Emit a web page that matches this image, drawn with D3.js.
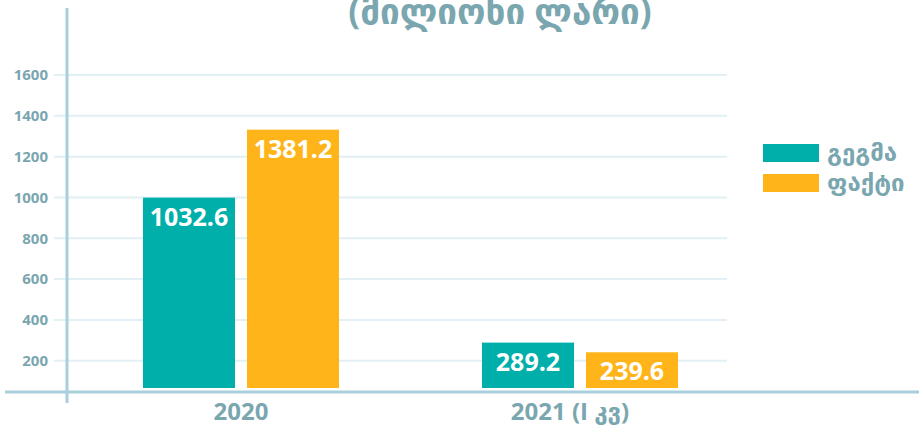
<!DOCTYPE html>
<html>
<head>
<meta charset="utf-8">
<script src="https://cdn.jsdelivr.net/npm/d3@7"></script>
<style>
  body { margin: 0; background: #fff; }
  svg text { font-family: "Open Sans", "DejaVu Sans", sans-serif; font-weight: 700; }
</style>
</head>
<body>
<div id="chart"></div>
<script>
// data
const categories = ["2020", "2021 (I კვ)"];
const seriesNames = ["გეგმა", "ფაქტი"];
const plan = [1032.6, 289.2];
const fact = [1381.2, 239.6];
const yTicks = [200, 400, 600, 800, 1000, 1200, 1400, 1600];
const title = "(მილიონი ლარი)";

const colors = ["#00afa9", "#ffb519"];
const axisColor = "#a9cfdb", gridColor = "#e2eff4", labelColor = "#7aa6b0";

const width = 919, height = 427;
const baseY = 388;

const svg = d3.select("#chart")
  .append("svg")
    .attr("width", width)
    .attr("height", height);

// grid scale
var y = d3.scaleLinear()
  .domain([0, 1600])
  .range([401.5, 75]);
// bars in the original are drawn a bit flatter than the grid
var yBar = d3.scaleLinear()
  .domain([0, 1600])
  .range([399, 399 - 0.195 * 1600]);

var x = d3.scalePoint()
  .domain(categories)
  .range([241, 580]);
var xSub = d3.scaleBand()
  .domain(seriesNames)
  .range([-98, 98])
  .paddingInner(0.1154);

// gridlines
svg.append("g")
  .selectAll("line")
  .data(yTicks)
  .enter().append("line")
    .attr("x1", 54)
    .attr("x2", 727)
    .attr("y1", d => y(d))
    .attr("y2", d => y(d))
    .attr("stroke", gridColor)
    .attr("stroke-width", 2);

// tick labels
svg.append("g")
  .selectAll("text")
  .data(yTicks)
  .enter().append("text")
    .attr("x", 48)
    .attr("y", d => y(d))
    .attr("dy", "0.36em")
    .attr("text-anchor", "end")
    .style("font-size", "15px")
    .style("fill", labelColor)
    .text(d => d);

// axis lines
svg.append("line")
  .attr("x1", 67).attr("x2", 67)
  .attr("y1", 8).attr("y2", 403)
  .attr("stroke", axisColor)
  .attr("stroke-width", 3);
svg.append("line")
  .attr("x1", 5).attr("x2", width)
  .attr("y1", 392).attr("y2", 392)
  .attr("stroke", axisColor)
  .attr("stroke-width", 3);

// bars
const rows = categories.map((c, i) => ({cat: c, vals: [plan[i], fact[i]]}));
const bars = [];
rows.forEach(r => r.vals.forEach((v, j) => bars.push({cat: r.cat, s: seriesNames[j], v: v, j: j})));

svg.append("g")
  .selectAll("rect")
  .data(bars)
  .enter().append("rect")
    .attr("x", d => x(d.cat) + xSub(d.s))
    .attr("y", d => yBar(d.v))
    .attr("width", xSub.bandwidth())
    .attr("height", d => baseY - yBar(d.v))
    .attr("fill", d => colors[d.j]);

svg.append("g")
  .selectAll("text")
  .data(bars)
  .enter().append("text")
    .attr("x", d => x(d.cat) + xSub(d.s) + xSub.bandwidth() / 2)
    .attr("y", d => yBar(d.v) + 28)
    .attr("text-anchor", "middle")
    .style("font-size", "25px")
    .style("fill", "#fff")
    .text(d => d.v.toFixed(1));

// category labels
svg.append("g")
  .selectAll("text")
  .data(categories)
  .enter().append("text")
    .attr("x", (d, i) => x(d) - (i == 1 ? 10 : 0))
    .attr("y", 420)
    .attr("text-anchor", "middle")
    .style("font-size", "24px")
    .style("fill", labelColor)
    .text(d => d);

// title (cut at the top in the original)
svg.append("text")
  .attr("x", 500)
  .attr("y", 24)
  .attr("text-anchor", "middle")
  .style("font-size", "35px")
  .style("fill", labelColor)
  .text(title);

// legend
seriesNames.forEach((s, i) => {
  svg.append("rect")
    .attr("x", 763)
    .attr("y", 144 + i * 30)
    .attr("width", 56)
    .attr("height", 18)
    .attr("fill", colors[i]);
  svg.append("text")
    .attr("x", 827)
    .attr("y", 161 + i * 30)
    .style("font-size", "24px")
    .style("fill", labelColor)
    .text(s);
});
</script>
</body>
</html>
